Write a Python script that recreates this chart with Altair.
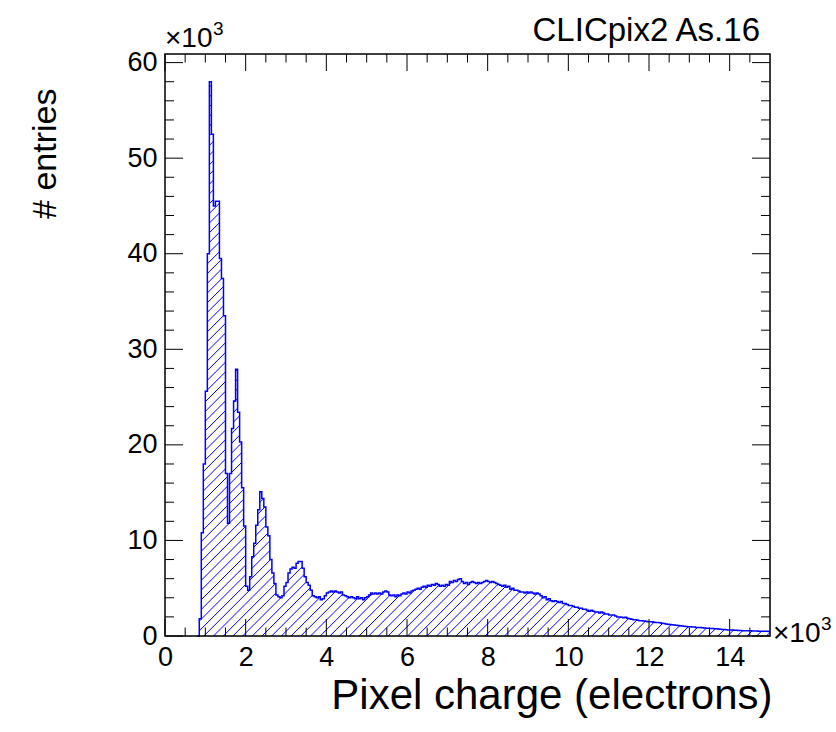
import altair as alt
import numpy as np
import pandas as pd

# ---------------- data (x in 10^3 electrons, y in 10^3 entries) ----------------
BIN_WIDTH = 0.05
FIRST_EDGE = 0.80
X_MAX = 15.0
Y_MAX = 60.9

counts_0800_1950 = [0, 1.8, 10.8, 18.0, 25.6, 40.0, 58.0, 52.5, 45.0, 45.5, 45.5, 39.5,
                    37.4, 33.5, 17.0, 11.8, 17.0, 21.7, 24.6, 27.9, 23.4, 20.3, 15.5, 11.5]
counts_2000_2950 = [5.2, 4.8, 6.2, 8.3, 9.7, 11.6, 13.2, 15.1, 14.4, 13.5, 11.4, 10.5,
                    8.0, 6.6, 5.5, 4.3, 4.1, 4.0, 4.2, 5.2]
counts_3000_3950 = [5.6, 6.6, 7.0, 7.2, 7.1, 7.6, 7.8, 7.8, 7.1, 6.2, 5.6, 5.3,
                    4.8, 4.2, 4.1, 4.0, 4.1, 3.8, 3.9, 4.2]
counts_4000_4950 = [4.5, 4.6, 4.7, 4.6, 4.7, 4.6, 4.5, 4.6, 4.3, 4.2, 4.1, 4.0,
                    4.1, 4.0, 3.9, 4.1, 3.9, 4.0, 3.8, 4.0]
counts_5000_5950 = [4.1, 4.3, 4.5, 4.4, 4.5, 4.4, 4.5, 4.4, 4.6, 4.7, 4.6, 4.3,
                    4.2, 4.3, 4.1, 4.3, 4.2, 4.4, 4.5, 4.4]
counts_6000_6950 = [4.6, 4.5, 4.7, 4.8, 4.9, 5.0, 4.9, 5.1, 5.2, 5.1, 5.3, 5.2,
                    5.4, 5.3, 5.5, 5.4, 5.2, 5.3, 5.2, 5.4]
counts_7000_7950 = [5.3, 5.7, 5.6, 5.8, 5.7, 5.9, 6.0, 5.7, 5.5, 5.6, 5.4, 5.6,
                    5.7, 5.6, 5.5, 5.6, 5.5, 5.6, 5.7, 5.8]
counts_8000_8950 = [5.7, 5.6, 5.7, 5.6, 5.5, 5.4, 5.3, 5.2, 5.3, 5.1, 5.2, 4.9,
                    5.0, 4.8, 4.8, 4.7, 4.6, 4.6, 4.5, 4.6]
counts_9000_9950 = [4.5, 4.6, 4.5, 4.4, 4.5, 4.4, 4.2, 4.0, 4.1, 3.8, 3.9, 3.7,
                    3.6, 3.7, 3.6, 3.5, 3.6, 3.4, 3.4, 3.3]
counts_10000_10950 = [3.2, 3.2, 3.1, 3.0, 3.0, 2.9, 2.9, 2.8, 2.8, 2.7, 2.6, 2.7,
                      2.6, 2.5, 2.5, 2.4, 2.5, 2.4, 2.3, 2.3]
counts_11000_11950 = [2.2, 2.2, 2.2, 2.1, 2.0, 2.0, 1.95, 1.9, 1.95, 1.85, 1.8, 1.75,
                      1.7, 1.7, 1.65, 1.6, 1.6, 1.58, 1.55, 1.5]
counts_12000_12950 = [1.5, 1.48, 1.45, 1.42, 1.4, 1.38, 1.33, 1.3, 1.25, 1.22, 1.2, 1.18,
                      1.15, 1.12, 1.1, 1.08, 1.05, 1.03, 1.0, 0.98]
counts_13000_13950 = [0.97, 0.95, 0.93, 0.9, 0.9, 0.88, 0.86, 0.85, 0.82, 0.8, 0.79, 0.78,
                      0.76, 0.75, 0.72, 0.7, 0.69, 0.67, 0.66, 0.64]
counts_14000_14950 = [0.63, 0.62, 0.6, 0.6, 0.58, 0.57, 0.56, 0.56, 0.55, 0.55, 0.54, 0.53,
                      0.52, 0.52, 0.51, 0.5, 0.5, 0.49, 0.49, 0.48]

x_major_ticks = [0, 2, 4, 6, 8, 10, 12, 14]
x_minor_ticks = [0.5, 1, 1.5, 2.5, 3, 3.5, 4.5, 5, 5.5, 6.5, 7, 7.5, 8.5, 9, 9.5,
                 10.5, 11, 11.5, 12.5, 13, 13.5, 14.5]
y_major_ticks = [0, 10, 20, 30, 40, 50, 60]
y_minor_ticks = [2, 4, 6, 8, 12, 14, 16, 18, 22, 24, 26, 28, 32, 34, 36, 38,
                 42, 44, 46, 48, 52, 54, 56, 58]

x_title = "Pixel charge (electrons)"
y_title = "# entries"
label_text = "CLICpix2 As.16"
exponent_base = "×10"
exponent_power = "3"

# ---------------- tables ----------------
counts = (counts_0800_1950 + counts_2000_2950 + counts_3000_3950 + counts_4000_4950 +
          counts_5000_5950 + counts_6000_6950 + counts_7000_7950 + counts_8000_8950 +
          counts_9000_9950 + counts_10000_10950 + counts_11000_11950 +
          counts_12000_12950 + counts_13000_13950 + counts_14000_14950)
edges = np.round(FIRST_EDGE + BIN_WIDTH * np.arange(len(counts)), 3)
hist = pd.DataFrame({"x": list(edges) + [X_MAX], "y": counts + [counts[-1]]})
cover = pd.concat([pd.DataFrame({"x": [0.0], "y": [0.0]}), hist], ignore_index=True)
cover["top"] = Y_MAX

# ---------------- layout ----------------
W, H = 605, 582
PAD = {"left": 165, "top": 54, "right": 836 - 165 - W, "bottom": 732 - 54 - H}
BLUE = "#0000ff"
FONT = "Liberation Sans"

# hatch style (ROOT fill style 3004-like): 45-degree lines, fixed pixel spacing
HATCH_SPACING = 9.7
rows = []
for k in range(int(-H / HATCH_SPACING) - 2, int(W / HATCH_SPACING) + 2):
    c = k * HATCH_SPACING
    xs, xe = max(0.0, c), min(float(W), H + c)
    if xe > xs:
        rows.append({"x": xs / W * X_MAX, "y": (xs - c) / H * Y_MAX,
                     "x2": xe / W * X_MAX, "y2": (xe - c) / H * Y_MAX})
hatch_df = pd.DataFrame(rows)

xscale = alt.Scale(domain=[0, X_MAX], nice=False, zero=False)
yscale = alt.Scale(domain=[0, Y_MAX], nice=False)

xaxis = alt.Axis(values=x_major_ticks, ticks=False, domain=False, grid=False,
                 labelFlush=False, labelOverlap=False,
                 labelFont=FONT, labelFontSize=27, labelColor="black", labelPadding=8,
                 title=x_title, titleFont=FONT, titleFontSize=42, titleFontWeight="normal",
                 titleColor="black", titleAnchor="end", titleAlign="right",
                 titleX=W + 2, titleY=72, titleBaseline="alphabetic")
yaxis = alt.Axis(values=y_major_ticks, ticks=False, domain=False, grid=False,
                 labelFlush=False, labelOverlap=False,
                 labelFont=FONT, labelFontSize=27, labelColor="black", labelPadding=8,
                 title=y_title, titleFont=FONT, titleFontSize=34, titleFontWeight="normal",
                 titleColor="black", titleAngle=-90, titleAlign="right",
                 titleX=-120, titleY=34, titleBaseline="middle")

hatch = alt.Chart(hatch_df).mark_rule(color=BLUE, strokeWidth=1, clip=True).encode(
    x=alt.X("x:Q", scale=xscale, axis=xaxis),
    y=alt.Y("y:Q", scale=yscale, axis=yaxis),
    x2="x2:Q", y2="y2:Q",
)
# white mask above the histogram so the hatching only remains under the bins
white_cover = alt.Chart(cover).mark_area(interpolate="step-after", color="white",
                                         opacity=1, clip=True).encode(
    x="x:Q", y="top:Q", y2="y:Q"
)
outline = alt.Chart(hist).mark_line(interpolate="step-after", color=BLUE, strokeWidth=1.5).encode(
    x="x:Q", y="y:Q"
)

def xticks(vals, length):
    df = pd.DataFrame({"x": vals})
    bottom = alt.Chart(df).mark_rule(color="black", strokeWidth=1).encode(
        x="x:Q", y=alt.value(H), y2=alt.value(H - length))
    top = alt.Chart(df).mark_rule(color="black", strokeWidth=1).encode(
        x="x:Q", y=alt.value(0), y2=alt.value(length))
    return bottom + top

def yticks(vals, length):
    df = pd.DataFrame({"y": vals})
    left = alt.Chart(df).mark_rule(color="black", strokeWidth=1).encode(
        y="y:Q", x=alt.value(0), x2=alt.value(length))
    right = alt.Chart(df).mark_rule(color="black", strokeWidth=1).encode(
        y="y:Q", x=alt.value(W), x2=alt.value(W - length))
    return left + right

one = pd.DataFrame({"t": [0]})
frame = alt.Chart(one).mark_rect(fill=None, stroke="black", strokeWidth=1.5).encode(
    x=alt.value(0), x2=alt.value(W), y=alt.value(0), y2=alt.value(H))

def exponent(x0, y0):
    base = alt.Chart(one).mark_text(align="left", baseline="alphabetic", font=FONT,
                                    fontSize=28, color="black").encode(
        x=alt.value(x0), y=alt.value(y0), text=alt.value(exponent_base))
    power = alt.Chart(one).mark_text(align="left", baseline="alphabetic", font=FONT,
                                     fontSize=19, color="black").encode(
        x=alt.value(x0 + 48), y=alt.value(y0 - 12), text=alt.value(exponent_power))
    return base + power

label = alt.Chart(one).mark_text(align="right", baseline="alphabetic", font=FONT,
                                 fontSize=33, color="black").encode(
    x=alt.value(W - 10), y=alt.value(-13), text=alt.value(label_text))

chart = alt.layer(
    hatch, white_cover, outline,
    xticks(x_major_ticks, 17), xticks(x_minor_ticks, 8.5),
    yticks(y_major_ticks, 18), yticks(y_minor_ticks, 9),
    frame, exponent(0, -7), exponent(W + 3, H + 6), label,
).properties(
    width=W, height=H, padding=PAD,
    autosize=alt.AutoSizeParams(type="none"),
).configure_view(stroke=None).configure(background="white")

chart.save("out.html", embed_options={"renderer": "svg", "actions": False})
